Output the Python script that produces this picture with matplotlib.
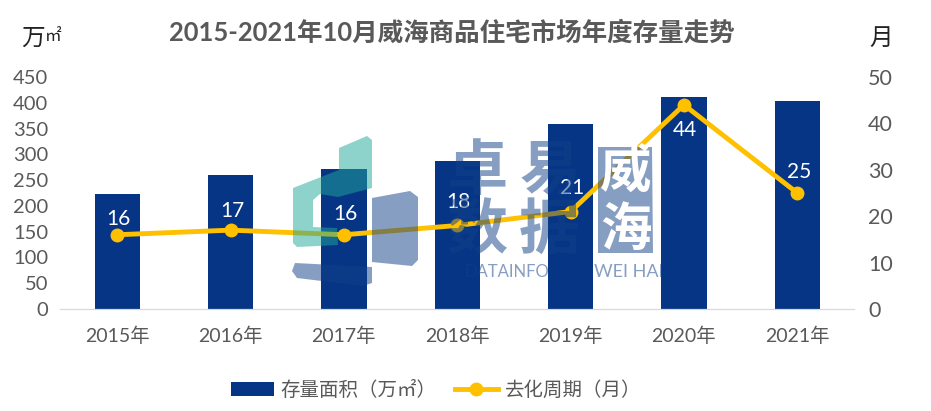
import matplotlib
matplotlib.use('Agg')
import matplotlib.pyplot as plt
from matplotlib.patches import Polygon

plt.rcParams['font.family'] = ['Lato', 'Noto Sans CJK SC', 'DejaVu Sans']

years = ['2015年', '2016年', '2017年', '2018年', '2019年', '2020年', '2021年']
stock = [223, 260, 271, 287, 359, 411, 403]
cycle = [16, 17, 16, 18, 21, 44, 25]

W, H = 931, 411
GRAY = '#595959'
NAVY = '#073585'
GOLD = '#FFC000'

fig = plt.figure(figsize=(W / 100, H / 100), dpi=100)
ax = fig.add_axes([60.5 / W, 1 - 309 / H, (854 - 60.5) / W, 232 / H])
ax2 = ax.twinx()

x = range(len(years))
bars = ax.bar(x, stock, width=0.4, color=NAVY, label='存量面积（万㎡）')
ax.set_xlim(-0.5, 6.5)
ax.set_ylim(0, 450)
ax.set_yticks(range(0, 451, 50))
ax.set_xticks(list(x))
ax.set_xticklabels(years)
ax.tick_params(axis='x', length=0, labelsize=14, labelcolor=GRAY, pad=13)
ax.tick_params(axis='y', length=0, labelsize=14.5, labelcolor=GRAY, pad=9)

line, = ax2.plot(x, cycle, color=GOLD, lw=3.5, marker='o', ms=9, label='去化周期（月）')
ax2.set_ylim(0, 50)
ax2.set_yticks(range(0, 51, 10))
ax2.tick_params(axis='y', length=0, labelsize=15.5, labelcolor=GRAY, pad=10)

# label offsets from the points, in points
label_dy = [11.5, 13.5, 15, 17, 17, -18, 15]
for i, v, dy in zip(x, cycle, label_dy):
    ax2.annotate(str(v), (i, v), xytext=(1, dy), textcoords='offset points',
                 ha='center', va='center', color='white', fontsize=15)

for a in (ax, ax2):
    for side in ('top', 'left', 'right'):
        a.spines[side].set_visible(False)
    a.spines['bottom'].set_color('#D9D9D9')

fig.text(452 / W, 1 - 32 / H, '2015-2021年10月威海商品住宅市场年度存量走势',
         ha='center', va='center', fontsize=18.4, fontweight='bold', color=GRAY)
fig.text(21 / W, 1 - 38 / H, '万', ha='left', va='center', fontsize=17, color='#222222')
fig.text(45 / W, 1 - 36 / H, '㎡', ha='left', va='center', fontsize=12, color='#222222')
fig.text(881 / W, 1 - 38 / H, '月', ha='center', va='center', fontsize=17, color='#222222')

fig.legend(handles=[bars, line], loc='center', bbox_to_anchor=(436 / W, 1 - 389 / H),
           ncol=2, frameon=False, fontsize=14, labelcolor=GRAY,
           handlelength=2.2, columnspacing=0.95, handletextpad=0.35)

# watermark over the plot, pixel coordinates
wm = fig.add_axes([0, 0, 1, 1], zorder=5)
wm.set_xlim(0, W)
wm.set_ylim(H, 0)
wm.axis('off')
TEAL = '#1FA79B'
BLUE = '#0F3F87'
wm.add_patch(Polygon([(293, 188), (339, 170), (339, 148), (367, 136), (372, 140), (372, 188),
                      (338, 197), (320, 194), (313, 200), (313, 227), (337, 228), (338, 245),
                      (297, 247), (293, 243)],
                     closed=True, fc=TEAL, alpha=0.5, ec='none'))
wm.add_patch(Polygon([(372, 198), (410, 191), (418, 197), (418, 260), (412, 266), (372, 262)],
                     closed=True, fc=BLUE, alpha=0.5, ec='none'))
wm.add_patch(Polygon([(295, 263), (372, 267), (372, 283), (363, 286), (297, 278), (292, 271)],
                     closed=True, fc=BLUE, alpha=0.5, ec='none'))
wm.add_patch(Polygon([(598, 147), (652, 147), (653, 253), (598, 253)],
                     closed=True, fc=BLUE, alpha=0.5, ec='none'))
for txt, px, py, size, col in [('卓', 477, 172, 44, BLUE), ('易', 550, 172, 44, BLUE),
                               ('数', 477, 230, 44, BLUE), ('据', 549, 230, 44, BLUE),
                               ('威', 626, 172, 37, 'white'), ('海', 626, 230, 37, 'white')]:
    wm.text(px, py, txt, ha='center', va='center', fontsize=size, fontweight='bold',
            color=col, alpha=0.5 if col == BLUE else 1)
wm.text(507, 272, 'DATAINFO', ha='center', va='center', fontsize=12, color=BLUE, alpha=0.5)
wm.text(629, 272, 'WEI HAI', ha='center', va='center', fontsize=13, color=BLUE, alpha=0.5)

fig.savefig('out.png', dpi=100)
